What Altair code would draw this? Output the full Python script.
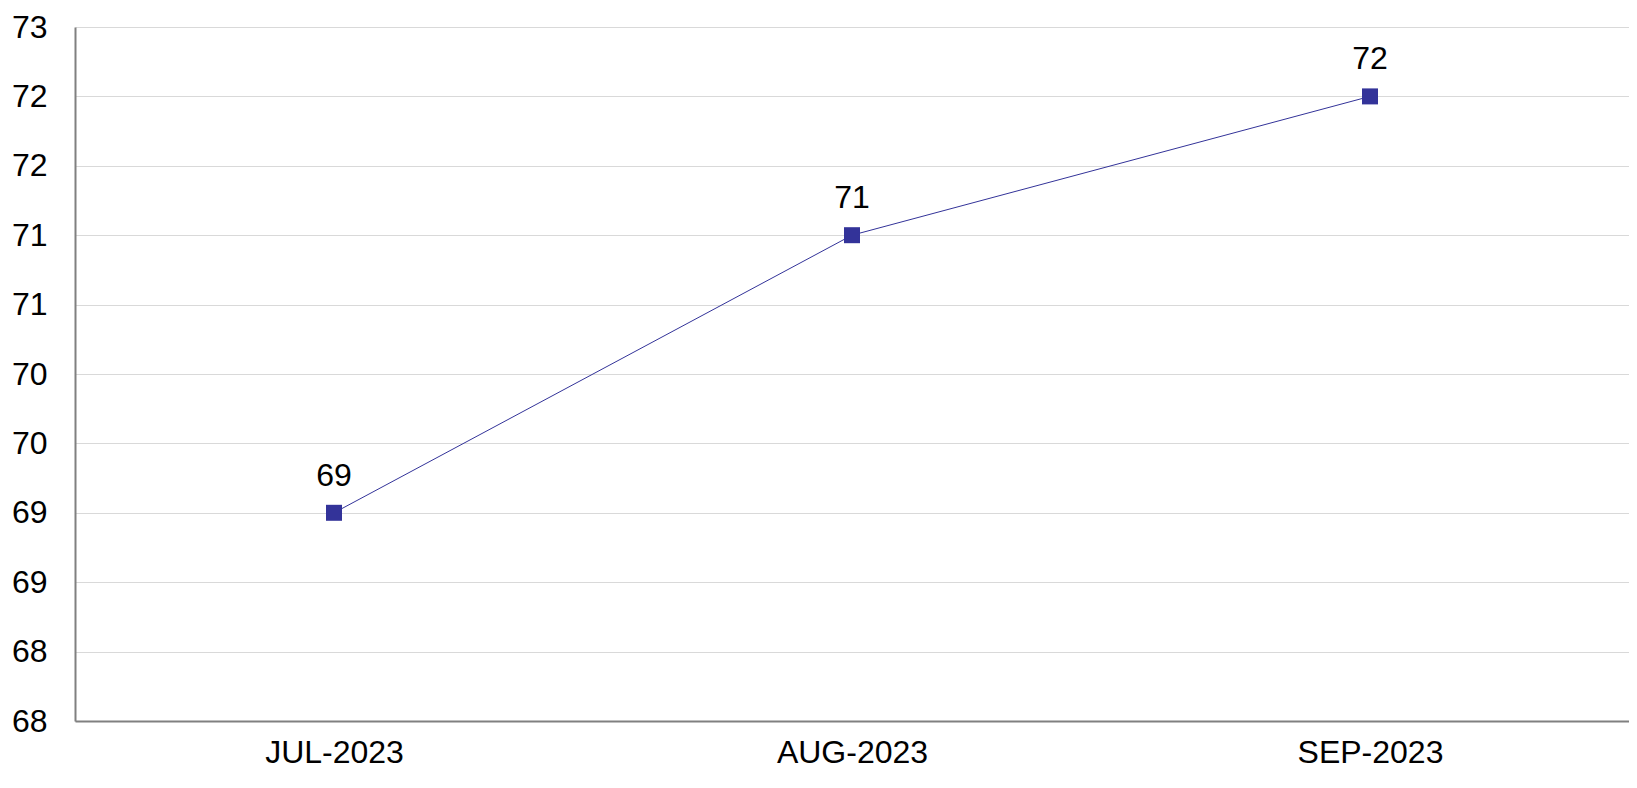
import altair as alt
import pandas as pd

months = ["JUL-2023", "AUG-2023", "SEP-2023"]
values = [69.5, 71.5, 72.5]
y_ticks = [68, 68.5, 69, 69.5, 70, 70.5, 71, 71.5, 72, 72.5, 73]

df = pd.DataFrame({"month": months, "value": values})

FONT = "Liberation Sans, Arial, sans-serif"
COLOR = "#333399"

x = alt.X("month:N", sort=months, title=None,
          scale=alt.Scale(type="point", padding=0.5),
          axis=alt.Axis(labelAngle=0, labelFontSize=32, labelFont=FONT, labelColor="#000000",
                        ticks=False, tickSize=0, labelPadding=16, grid=False,
                        domainColor="#808080", domainWidth=2))
y = alt.Y("value:Q", title=None,
          scale=alt.Scale(domain=[68, 73], nice=False, zero=False),
          axis=alt.Axis(values=y_ticks, labelExpr="floor(datum.value)", labelFontSize=32,
                        labelFont=FONT, labelColor="#000000", ticks=False, tickSize=0,
                        labelPadding=28, grid=True, gridColor="#d9d9d9", gridWidth=1,
                        domainColor="#808080", domainWidth=2))

base = alt.Chart(df).encode(x=x, y=y)

line = base.mark_line(color=COLOR, strokeWidth=1)
pts = base.mark_point(shape="square", filled=True, size=256, color=COLOR, opacity=1)
labels = base.transform_calculate(lbl="floor(datum.value)").mark_text(
    fontSize=32, font=FONT, color="#000000", dy=-27, baseline="alphabetic", align="center"
).encode(text="lbl:N")

chart = (line + pts + labels).properties(
    width=1554, height=694,
    autosize=alt.AutoSizeParams(type="none"),
    padding={"left": 67, "top": 19, "right": 0, "bottom": 53},
).configure_view(stroke=None)

chart.save("out.html", embed_options={"renderer": "svg", "actions": False})
